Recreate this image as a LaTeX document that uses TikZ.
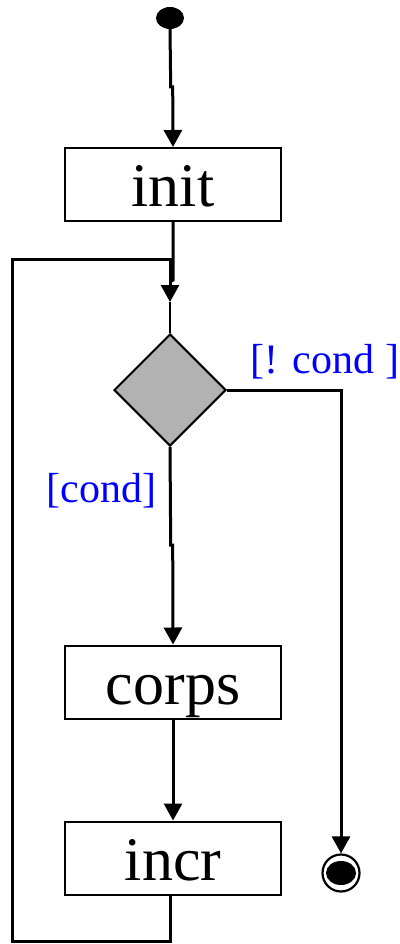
\documentclass[tikz,border=0pt]{standalone}
\usepackage{fontspec}
\setmainfont{Liberation Serif}
\usetikzlibrary{arrows.meta,shapes.geometric}

\tikzset{
  actbox/.style={draw, line width=2pt, minimum width=216pt, minimum height=73pt,
    inner sep=0pt, font=\fontsize{62}{70}\selectfont, text height=46pt, text depth=2pt},
  decision/.style={diamond, draw, line width=2pt, fill=black!30, minimum width=112pt,
    minimum height=112pt, inner sep=0pt},
  conn/.style={line width=3pt},
  thinconn/.style={line width=2pt},
  flow/.style={conn, -{Triangle[length=17pt 0 0,width=18pt 0 0]}},
  guard/.style={text=blue, font=\fontsize{42}{48}\selectfont, anchor=base, inner sep=0pt},
}

\begin{document}
\begin{tikzpicture}[x=1pt, y=-1pt]
  \useasboundingbox (0,0) rectangle (399,944);

  % initial and final states
  \node[ellipse, fill=black, minimum width=28pt, minimum height=22pt, inner sep=0pt] (start) at (170,18) {};
  \node[circle, draw, line width=2.2pt, minimum size=37pt, inner sep=0pt] (stop) at (341,873) {};
  \node[ellipse, fill=black, minimum width=30pt, minimum height=24pt, inner sep=0pt] (stopdot) at (stop.center) {};

  % actions and the decision
  \node[actbox] (init)  at (173,184.5) {init};
  \node[decision] (dec) at (170,390) {};
  \node[actbox] (corps) at (173,682) {corps};
  \node[actbox] (incr)  at (173,858) {incr};

  % guards
  \node[guard] (notcond) at (325,373) {[! cond ]};
  \node[guard] (cond)    at (101.5,502) {[cond]};

  % routing points
  \coordinate (j1a) at (170.7,87);
  \coordinate (j1b) at (172.7,87);
  \coordinate (j2) at (173,280);
  \coordinate (merge) at (170,282);
  \coordinate (tip) at (170,302);
  \coordinate (j3a) at (170.7,545);
  \coordinate (j3b) at (172.7,545);
  \coordinate (loopA) at (170,941);
  \coordinate (loopB) at (12,941);
  \coordinate (loopC) at (12,259);
  \coordinate (loopD) at (170,259);

  % connectors
  \draw[flow] (start.south) -- (j1a) -- (j1b) -- (init.north);
  \draw[conn] (init.south) -- (j2) -- (merge);
  \draw[flow] (merge) -- (tip);
  \draw[thinconn] (tip) -- (dec.north);
  \draw[flow] (dec.south) -- (j3a) -- (j3b) -- (corps.north);
  \draw[flow] (corps.south) -- (incr.north);
  \draw[flow] (dec.east) -| (stop.north);
  \draw[conn] ([xshift=-3pt]incr.south) -- (loopA) -- (loopB) -- (loopC) -- (loopD) -- (merge);
\end{tikzpicture}
\end{document}
